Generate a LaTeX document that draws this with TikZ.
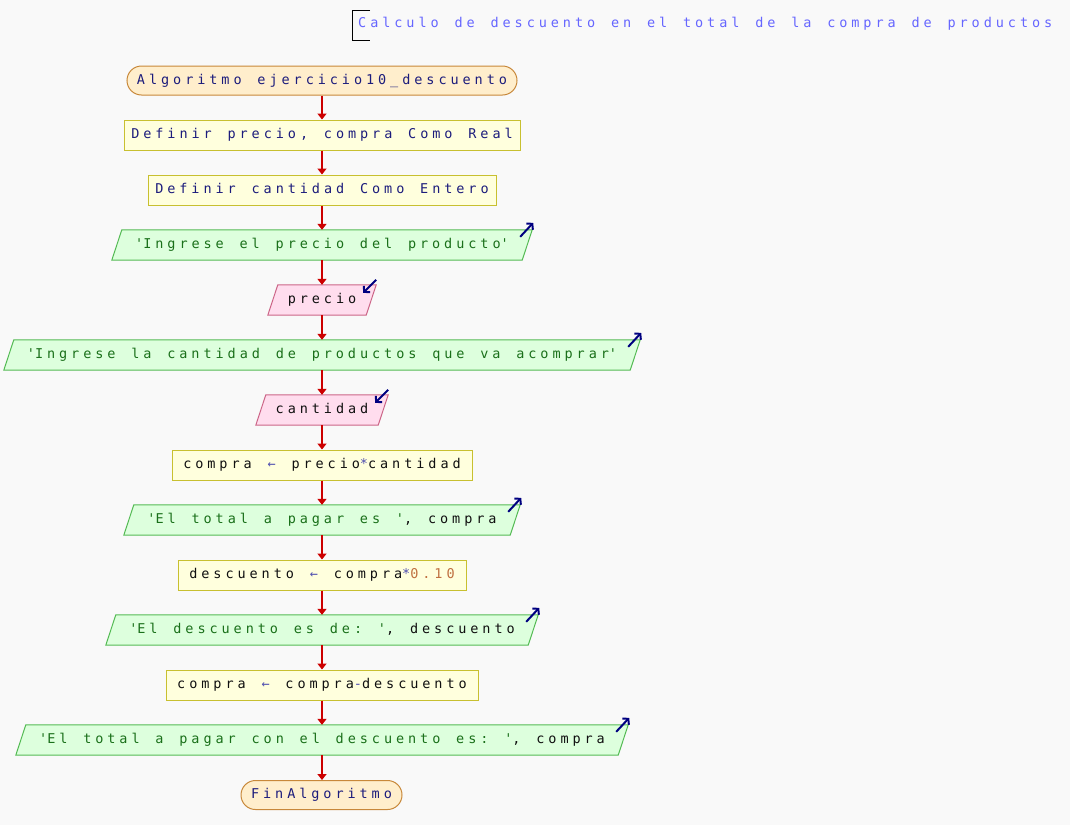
\documentclass[tikz,border=0pt]{standalone}
\usepackage{fontspec}
\usetikzlibrary{arrows.meta,backgrounds}
% monospaced code font with wide tracking; words spaced to one character cell
\newfontfamily\codefont[LetterSpace=29.2, WordSpace={1.31,0,0}]{DejaVu Sans Mono}
\newcommand\codesetup{\codefont\fontsize{13.5}{16}\selectfont\frenchspacing}

\definecolor{canvas}{HTML}{F9F9F9}
\definecolor{termfill}{HTML}{FFEECC}
\definecolor{termline}{HTML}{C8883A}
\definecolor{procfill}{HTML}{FFFFDD}
\definecolor{procline}{HTML}{C8C030}
\definecolor{outfill}{HTML}{DDFFDD}
\definecolor{outline}{HTML}{55BB55}
\definecolor{infill}{HTML}{FFDDEE}
\definecolor{inline}{HTML}{CC6688}
\definecolor{flow}{HTML}{CC0000}
\definecolor{iconc}{HTML}{000080}
\definecolor{titlec}{HTML}{6666FF}
\definecolor{kwc}{HTML}{1C1C7C}
\definecolor{strc}{HTML}{1A701A}
\definecolor{numc}{HTML}{C07040}
\definecolor{opc}{HTML}{5050B0}
\definecolor{plainc}{HTML}{101010}

\newcommand\q{\textquotesingle}
\newcommand\str[1]{\textcolor{strc}{#1}}
\newcommand\op[1]{\textcolor{opc}{#1}}
\newcommand\num[1]{\textcolor{numc}{#1}}

% parallelogram behind an io node: top edge shifted right, bottom edge left
\newcommand\slanted[2]{%
  \filldraw[#2] ([xshift=5pt]#1.north west) -- ([xshift=5pt]#1.north east)
    -- ([xshift=-5pt]#1.south east) -- ([xshift=-5pt]#1.south west) -- cycle;}
% small marks at the top right corner of io nodes
\newcommand\outmark[1]{%
  \draw[iconarrow] ([xshift=-7pt,yshift=-7pt]#1.north east) -- ([xshift=6pt,yshift=7pt]#1.north east);}
\newcommand\inmark[1]{%
  \draw[iconarrow] ([xshift=5pt,yshift=5pt]#1.north east) -- ([xshift=-8pt,yshift=-8pt]#1.north east);}

\begin{document}
\begin{tikzpicture}[x=1pt,y=-1pt,
  base/.style={inner sep=0pt, font=\codesetup,
    text height=10pt, text depth=2.5pt, text=plainc},
  term/.style={base, draw=termline, fill=termfill, line width=1pt,
    rounded corners=14.5pt, minimum height=29pt, text=kwc},
  proc/.style={base, draw=procline, fill=procfill, line width=1pt, minimum height=30pt},
  iobox/.style={base, minimum height=30pt},
  outshape/.style={draw=outline, fill=outfill, line width=1pt},
  inshape/.style={draw=inline, fill=infill, line width=1pt},
  iconarrow/.style={draw=iconc, line width=2pt, -{Straight Barb[length=4pt,width=9pt]}},
  flowline/.style={draw=flow, line width=1.8pt, -{Triangle[length=6pt,width=9pt]}}
]
\useasboundingbox (0,0) rectangle (1070,825);

% heading
\node[base, anchor=west, text=titlec] (title) at (358,24)
  {Calculo de descuento en el total de la compra de productos};
\draw[line width=1pt] (370,10) -- (352,10) -- (352,40) -- (370,40);

% flowchart blocks
\node[term, minimum width=390pt] (start) at (322,80.5) {Algoritmo ejercicio10\_descuento};
\node[proc, minimum width=396pt, text=kwc] (def1) at (322,135) {Definir precio, compra Como Real};
\node[proc, minimum width=348pt, text=kwc] (def2) at (322,190) {Definir cantidad Como Entero};
\node[iobox, minimum width=410pt] (out1) at (322,245) {\str{\q Ingrese el precio del producto\q}};
\node[iobox, minimum width=98pt] (in1) at (322,300) {precio};
\node[iobox, minimum width=626pt] (out2) at (322,355) {\str{\q Ingrese la cantidad de productos que va acomprar\q}};
\node[iobox, minimum width=122pt] (in2) at (322,410) {cantidad};
\node[proc, minimum width=300pt] (asg1) at (322,465) {compra \op{←} precio\op{*}cantidad};
\node[iobox, minimum width=386pt] (out3) at (322,520) {\str{\q El total a pagar es \q}, compra};
\node[proc, minimum width=288pt] (asg2) at (322,575) {descuento \op{←} compra\op{*}\num{0.10}};
\node[iobox, minimum width=422pt] (out4) at (322,630) {\str{\q El descuento es de: \q}, descuento};
\node[proc, minimum width=312pt] (asg3) at (322,685) {compra \op{←} compra\op{-}descuento};
\node[iobox, minimum width=602pt] (out5) at (322,740) {\str{\q El total a pagar con el descuento es: \q}, compra};
\node[term, minimum width=161pt] (stop) at (321.5,795) {FinAlgoritmo};

% io shapes and the canvas go underneath the text
\begin{scope}[on background layer]
  \fill[canvas] (0,0) rectangle (1070,825);
  \slanted{out1}{outshape}
  \slanted{in1}{inshape}
  \slanted{out2}{outshape}
  \slanted{in2}{inshape}
  \slanted{out3}{outshape}
  \slanted{out4}{outshape}
  \slanted{out5}{outshape}
\end{scope}

\outmark{out1}
\inmark{in1}
\outmark{out2}
\inmark{in2}
\outmark{out3}
\outmark{out4}
\outmark{out5}

% flow
\foreach \a/\b in {start/def1, def1/def2, def2/out1, out1/in1, in1/out2, out2/in2,
  in2/asg1, asg1/out3, out3/asg2, asg2/out4, out4/asg3, asg3/out5}
  \draw[flowline] (\a.south) -- (\b.north);
\draw[flowline] (out5.south) -- (out5.south |- stop.north);
\end{tikzpicture}
\end{document}
